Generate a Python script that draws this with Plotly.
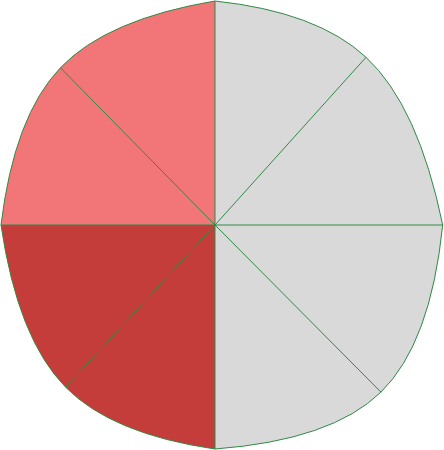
import math
import plotly.graph_objects as go

# Eight slices, spokes measured clockwise from 12 o'clock
spoke_angles = [0, 42, 90, 135.2, 180, 222.6, 270, 315.5]
spoke_radii = [224, 225.7, 227.7, 235.5, 224, 220.5, 214, 220.5]
slice_groups = ["Other", "Other", "Other", "Other", "Group B", "Group B", "Group A", "Group A"]
group_colors = {"Other": "#d9d9d9", "Group B": "#c43d3b", "Group A": "#f27677"}
outline_color = "#2e8b45"

xs = [r * math.sin(math.radians(a)) for r, a in zip(spoke_radii, spoke_angles)]
ys = [r * math.cos(math.radians(a)) for r, a in zip(spoke_radii, spoke_angles)]
n = len(xs)

fig = go.Figure()
# each quadrant: cardinal -> diagonal -> cardinal spoke, filled to the centre line
for q in range(4):
    idx = [2 * q, 2 * q + 1, (2 * q + 2) % n]
    fig.add_trace(go.Scatter(
        x=[xs[i] for i in idx], y=[ys[i] for i in idx],
        mode="lines", fill="tozeroy",
        fillcolor=group_colors[slice_groups[2 * q + 1]],
        line=dict(color=outline_color, width=1, shape="spline", smoothing=1.3),
        hoverinfo="skip", showlegend=False))

# spokes
sx, sy = [], []
for i in range(n):
    sx += [0, xs[i], None]
    sy += [0, ys[i], None]
fig.add_trace(go.Scatter(x=sx, y=sy, mode="lines",
                         line=dict(color=outline_color, width=1),
                         hoverinfo="skip", showlegend=False))

fig.update_layout(
    width=444, height=450,
    margin=dict(l=0, r=0, t=0, b=0),
    paper_bgcolor="white", plot_bgcolor="white",
    xaxis=dict(range=[-215, 229], visible=False, showgrid=False, zeroline=False, fixedrange=True),
    yaxis=dict(range=[-225, 225], visible=False, showgrid=False, zeroline=False, fixedrange=True),
)
fig.write_html("out.html", config={"displayModeBar": False},
               post_script="document.body.style.margin='0px';document.body.style.overflow='hidden';")
